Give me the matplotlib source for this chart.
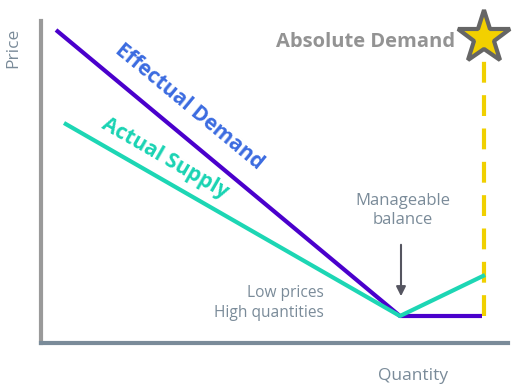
import matplotlib.pyplot as plt

plt.rcParams["font.family"] = ["Open Sans", "DejaVu Sans"]

# quantity / price points (axis units)
demand_q = [15, 359, 441]
demand_p = [313, 27, 27]
supply_q = [23, 359, 444]
supply_p = [220, 27, 68]
absolute_q = [443, 443]
absolute_p = [27, 288]
star_p = 305

fig = plt.figure(figsize=(5.17, 3.91), dpi=100)
ax = fig.add_axes([41 / 517, 48 / 391, 467 / 517, 322 / 391])
ax.set_xlim(0, 467)
ax.set_ylim(0, 322)
ax.set_xticks([])
ax.set_yticks([])
for side in ["top", "right"]:
    ax.spines[side].set_visible(False)
ax.spines["left"].set_color("#9a9a9a")
ax.spines["left"].set_linewidth(3)
ax.spines["bottom"].set_color("#7a8b99")
ax.spines["bottom"].set_linewidth(3)

ax.plot(absolute_q, absolute_p, color="#f0d000", lw=3, dashes=(5, 3), clip_on=False)
ax.plot(demand_q, demand_p, color="#4a00cc", lw=3, solid_capstyle="butt", clip_on=False)
ax.plot(supply_q, supply_p, color="#1dd6b4", lw=3, solid_capstyle="butt", clip_on=False)
ax.plot([absolute_q[0]], [star_p], marker="*", ms=40, color="#f2d000",
        mec="#666666", mew=3, clip_on=False)

ax.text(414, 301, "Absolute Demand", ha="right", va="center", fontsize=14.5,
        fontweight="bold", color="#939393")
ax.text(148, 236, "Effectual Demand", ha="center", va="center", fontsize=15,
        fontweight="bold", color="#3b6be0", rotation=-39.5, rotation_mode="anchor")
ax.text(124, 185, "Actual Supply", ha="center", va="center", fontsize=15,
        fontweight="bold", color="#19d3b3", rotation=-29.9, rotation_mode="anchor")
ax.text(362, 133, "Manageable\nbalance", ha="center", va="center", fontsize=12,
        color="#7a8b99", linespacing=1.25)
ax.text(283, 40, "Low prices\nHigh quantities", ha="right", va="center", fontsize=11.2,
        color="#7a8b99", linespacing=1.3)
ax.annotate("", xy=(360, 44), xytext=(360, 101),
            arrowprops=dict(arrowstyle="-|>", color="#555560", lw=1.5, mutation_scale=14))

fig.text(13 / 517, 1 - 48 / 391, "Price", rotation=90, ha="center", va="center",
         fontsize=12.5, color="#7a8b99")
fig.text(413 / 517, 1 - 376 / 391, "Quantity", ha="center", va="center",
         fontsize=12.5, color="#7a8b99")

fig.savefig("out.png", dpi=100)
